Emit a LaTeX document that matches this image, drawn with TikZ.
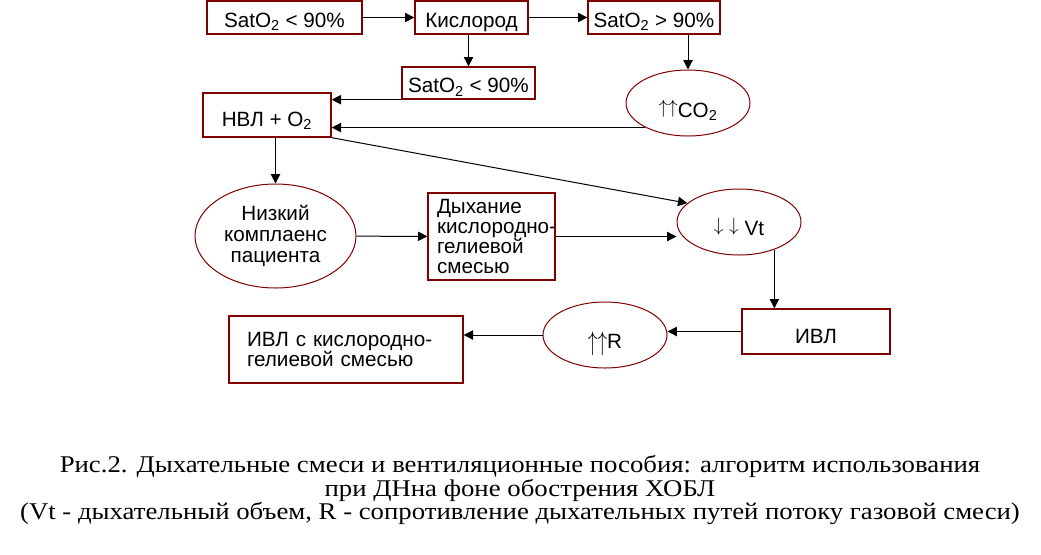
\documentclass[tikz,border=0pt]{standalone}
\usepackage{fontspec}
\setmainfont{Liberation Sans}
\newfontfamily\podpisfont{Liberation Serif}
\usetikzlibrary{arrows.meta,shapes.geometric}

\definecolor{ramka}{RGB}{128,0,0}
\newcommand{\blokfont}{\fontsize{15.5pt}{15.8pt}\selectfont}
\newcommand{\verhs}{\raisebox{0.2em}{$\uparrow$}}
\newcommand{\nizs}{\raisebox{0.2em}{$\downarrow$}}
\newcommand{\verhr}{\raisebox{-0.1em}{\scalebox{1}[1.4]{$\uparrow$}}}

\tikzset{every picture/.style={line width=0.75pt}}
\tikzset{
  blok/.style={draw=ramka, line width=1pt, inner sep=0pt, font=\blokfont},
  oval/.style={ellipse, draw=ramka, line width=0.75pt, inner sep=0pt, font=\blokfont, align=center},
  stroka/.style={text height=#1, text depth=0pt},
  strelka/.style={-{Triangle[length=7pt,width=7pt]}}
}

\begin{document}
\begin{tikzpicture}[x=0.75pt,y=0.75pt,yscale=-1,xscale=1]
	\useasboundingbox (0,0) rectangle (1041,554);
	
	%Shape: Rectangle [id:sat1] 
	\node [blok, stroka=15pt, minimum width=116.25pt, minimum height=24.75pt] (sat1) at (284.5,17.5) {SatO\textsubscript{2} < 90\%};
	%Shape: Rectangle [id:kisl] 
	\node [blok, stroka=15pt, minimum width=84.75pt, minimum height=24.75pt] (kisl) at (471.5,17.5) {Кислород};
	%Shape: Rectangle [id:sat2] 
	\node [blok, stroka=15pt, minimum width=99pt, minimum height=24.75pt] (sat2) at (654,17.5) {SatO\textsubscript{2} > 90\%};
	%Shape: Rectangle [id:sat3] 
	\node [blok, stroka=14.5pt, minimum width=99.75pt, minimum height=24pt] (sat3) at (468.5,83) {SatO\textsubscript{2} < 90\%};
	%Shape: Rectangle [id:nvl] 
	\node [blok, stroka=17pt, minimum width=96pt, minimum height=33pt] (nvl) at (267,115) {НВЛ + О\textsubscript{2}};
	%Shape: Ellipse [id:co] 
	\node [oval, stroka=21.5pt, minimum width=93pt, minimum height=49.5pt] (co) at (688,103) {\verhs\verhs CO\textsubscript{2}};
	%Shape: Ellipse [id:kompl] 
	\node [oval, font=\fontsize{15.5pt}{15.8pt}\selectfont, minimum width=120.75pt, minimum height=78pt] (kompl) at (275.5,236) {Низкий\\комплаенс\\пациента};
	%Shape: Rectangle [id:dyh] 
	\node [blok, font=\fontsize{15.5pt}{14.8pt}\selectfont, align=left, text width=81.75pt, minimum width=95.25pt, minimum height=65.25pt] (dyh) at (491.5,236.5) {Дыхание\\\mbox{кислородно-}\\гелиевой\\смесью};
	%Shape: Ellipse [id:vt] 
	\node [oval, stroka=20.5pt, minimum width=93pt, minimum height=49.5pt] (vt) at (739,222) {\nizs{} \nizs{} Vt};
	%Shape: Rectangle [id:ivl] 
	\node [blok, stroka=18pt, minimum width=111pt, minimum height=33.75pt] (ivl) at (816,331.5) {ИВЛ};
	%Shape: Ellipse [id:rr] 
	\node [oval, stroka=20.5pt, minimum width=93pt, minimum height=49.5pt] (rr) at (605,335) {\verhr\verhr R};
	%Shape: Rectangle [id:ivlgel] 
	\node [blok, font=\fontsize{15.5pt}{14.5pt}\selectfont, align=left, text width=148.5pt, minimum width=175.5pt, minimum height=50.25pt] (ivlgel) at (346,349.5) {ИВЛ с кислородно-\\гелиевой смесью};
	
	%Straight Lines 
	\draw [strelka] (sat1) -- (kisl);
	\draw [strelka] (kisl) -- (sat2);
	\draw [strelka] (sat3.north |- kisl.south) -- (sat3.north);
	\draw [strelka] (co.north |- sat2.south) -- (co.north);
	\draw [strelka] (sat3.south west) -- (sat3.south west -| nvl.east);
	\draw [strelka] (co.210) -- (co.210 -| nvl.east);
	\draw [strelka] (kompl.north |- nvl.south) -- (kompl.north);
	\draw [strelka] (nvl.south east) -- (vt.160);
	\draw [strelka] (kompl) -- (dyh);
	\draw [strelka] (dyh.east) -- (dyh.east -| vt.west);
	\draw [strelka] (vt.322) -- (vt.322 |- ivl.north);
	\draw [strelka] (ivl.west) -- (ivl.west -| rr.east);
	\draw [strelka] (rr.west) -- (rr.west -| ivlgel.east);
	
	% Text Node
	\node [inner sep=0pt, font=\podpisfont\fontsize{18pt}{17.3pt}\selectfont] (podpis) at (520,490) {\scalebox{1.115}[1]{\parbox{690pt}{\centering\lineskiplimit=-100pt Рис.2. Дыхательные смеси и вентиляционные пособия: алгоритм использования\\при ДНна фоне обострения ХОБЛ\\(Vt - дыхательный объем, R - сопротивление дыхательных путей потоку газовой смеси)}}};
	
\end{tikzpicture}
\end{document}
